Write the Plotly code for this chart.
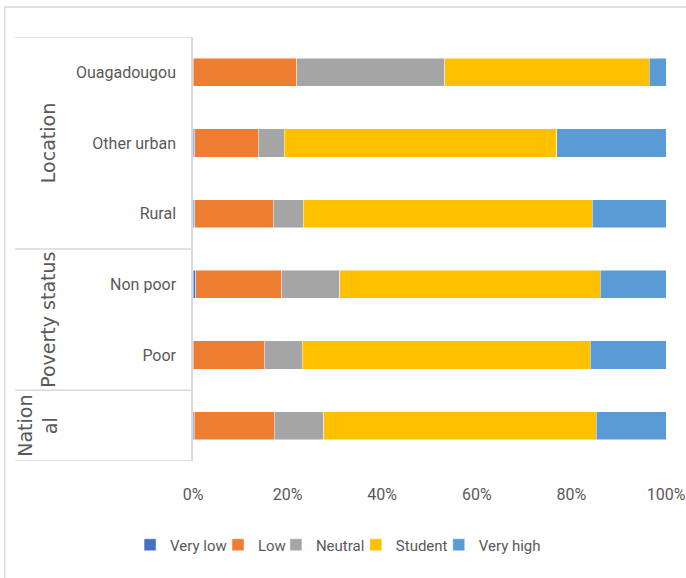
import plotly.graph_objects as go

categories = ["Ouagadougou", "Other urban", "Rural", "Non poor", "Poor", "National"]
tick_labels = ["Ouagadougou", "Other urban", "Rural", "Non poor", "Poor", ""]
series_names = ["Very low", "Low", "Neutral", "Student", "Very high"]
very_low = [0.0, 0.4, 0.4, 0.6, 0.1, 0.3]
low = [21.9, 13.4, 16.6, 18.2, 15.0, 16.9]
neutral = [31.3, 5.5, 6.3, 12.2, 8.0, 10.4]
student = [43.3, 57.6, 61.1, 55.1, 60.9, 57.6]
very_high = [3.5, 23.1, 15.6, 13.9, 16.0, 14.8]
colors = ["#4472C4", "#ED7D31", "#A5A5A5", "#FFC000", "#5B9BD5"]
x_ticks = [0, 20, 40, 60, 80, 100]

W, H = 686, 578
L, R, T, B = 193, 19.5, 37, 117
pw = W - L - R
ph = H - T - B

def px_x(p):
    return (p - L) / pw

def px_y(p):
    return (H - B - p) / ph

# legend text start positions in the reference (px)
legend_text_px = [167, 255, 313, 393, 476]
legend_ids = ["legend", "legend2", "legend3", "legend4", "legend5"]

grey = "#595959"
fig = go.Figure()
for name, vals, col, lid in zip(series_names, [very_low, low, neutral, student, very_high], colors, legend_ids):
    fig.add_trace(go.Bar(
        y=categories, x=vals, name=name, orientation="h", legend=lid,
        marker=dict(color=col, line=dict(color="rgba(255,255,255,0.6)", width=0.8)),
    ))

line_col = "#D9D9D9"
shapes = []
shapes.append(dict(type="rect", xref="paper", yref="paper",
                   x0=px_x(4.5), x1=px_x(700), y0=px_y(600), y1=px_y(7),
                   line=dict(color=line_col, width=1.5), layer="below"))
for yv in [-0.5, 2.5, 4.5, 5.5]:
    shapes.append(dict(type="line", xref="paper", yref="y",
                       x0=px_x(15), x1=0, y0=yv, y1=yv,
                       line=dict(color=line_col, width=1.5)))

gfont = dict(family="DejaVu Sans", size=19, color=grey)
annotations = [
    dict(text="Location", x=px_x(48), y=1, xref="paper", yref="y", textangle=-90,
         xanchor="center", yanchor="middle", showarrow=False, font=gfont),
    dict(text="Poverty status", x=px_x(48), y=3.5, xref="paper", yref="y", textangle=-90,
         xanchor="center", yanchor="middle", showarrow=False, font=gfont),
    dict(text="Nation<br>al", x=px_x(38), y=5, xref="paper", yref="y", textangle=-90,
         xanchor="center", yanchor="middle", showarrow=False, font=gfont),
]

legend_layout = {}
for lid, tpx in zip(legend_ids, legend_text_px):
    legend_layout[lid] = dict(
        orientation="h", x=px_x(tpx - 37), xanchor="left", y=px_y(545), yanchor="middle",
        font=dict(family="Roboto", size=15, color=grey), itemwidth=30,
        bgcolor="rgba(0,0,0,0)", borderwidth=0)

fig.update_layout(
    barmode="stack",
    bargap=0.6,
    width=W, height=H,
    margin=dict(l=L, r=R, t=T, b=B, pad=0, autoexpand=False),
    paper_bgcolor="white", plot_bgcolor="white",
    font=dict(family="Roboto", size=16, color=grey),
    shapes=shapes,
    annotations=annotations,
    showlegend=True,
    xaxis=dict(range=[0, 100], tickvals=x_ticks, ticktext=[f"{v}%" for v in x_ticks],
               showgrid=False, zeroline=False, showline=False, ticks="", automargin=False,
               ticklabelstandoff=22, tickfont=dict(family="Roboto", size=16, color=grey)),
    yaxis=dict(categoryorder="array", categoryarray=categories, range=[5.5, -0.5],
               tickvals=categories, ticktext=tick_labels, ticks="", automargin=False,
               showline=True, linecolor=line_col, linewidth=1.5,
               showgrid=False, zeroline=False, ticklabelstandoff=12,
               tickfont=dict(family="Roboto", size=16, color=grey)),
    **legend_layout,
)

fig.write_html("out.html")
